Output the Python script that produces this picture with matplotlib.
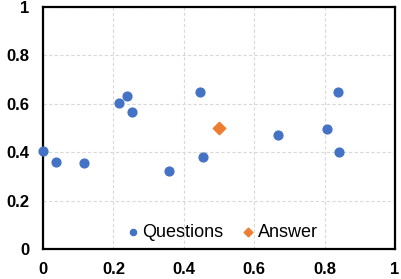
import matplotlib
matplotlib.use("Agg")
import matplotlib.pyplot as plt

q_x = [0.0, 0.038, 0.116, 0.358, 0.217, 0.239, 0.253, 0.446, 0.454, 0.668, 0.806, 0.839, 0.842]
q_y = [0.405, 0.361, 0.357, 0.322, 0.605, 0.632, 0.565, 0.647, 0.379, 0.471, 0.495, 0.647, 0.402]
a_x = [0.5]
a_y = [0.5]
ticks = [0, 0.2, 0.4, 0.6, 0.8, 1]
tick_labels = ["0", "0.2", "0.4", "0.6", "0.8", "1"]

plt.rcParams['font.family'] = ['Liberation Sans', 'DejaVu Sans']

fig = plt.figure(figsize=(4.01, 2.79), dpi=100)
ax = fig.add_axes([0.1072, 0.1075, 0.8778, 0.8675])

ax.scatter(q_x, q_y, s=40, color='#4472C4', marker='o', label='Questions', zorder=3, clip_on=False)
ax.scatter(a_x, a_y, s=40, color='#ED7D31', marker='D', label='Answer', zorder=3, clip_on=False)

ax.set_xlim(0, 1)
ax.set_ylim(0, 1)
ax.set_xticks(ticks)
ax.set_yticks(ticks)
ax.set_xticklabels(tick_labels, fontsize=12, fontweight='bold')
ax.set_yticklabels(tick_labels, fontsize=12, fontweight='bold')
ax.tick_params(axis='both', length=0)
ax.tick_params(axis='x', pad=9.5)
ax.tick_params(axis='y', pad=10)

ax.grid(True, color='#D9D9D9', linestyle=(0, (3, 2)), linewidth=0.8)
ax.set_axisbelow(True)
for s in ax.spines.values():
    s.set_color('black')
    s.set_linewidth(1.6)

ax.legend(loc='center', bbox_to_anchor=(0.505, 0.07), ncol=2, frameon=False,
          fontsize=13, handletextpad=0.05, columnspacing=0.85, borderpad=0,
          handlelength=1.0, markerscale=0.7)

fig.savefig("out.png", dpi=100)
